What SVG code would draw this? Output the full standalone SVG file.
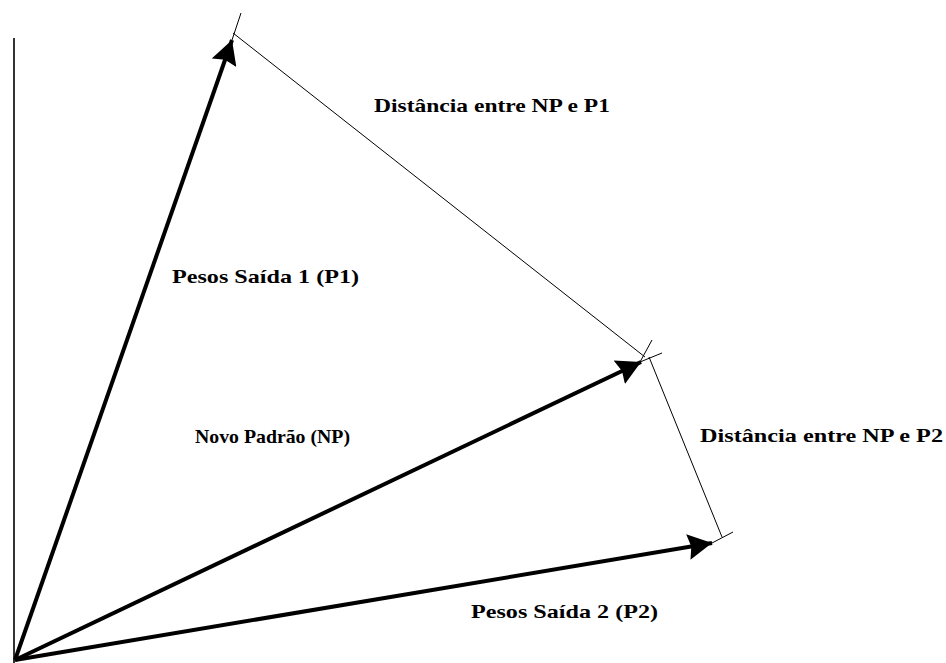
<svg xmlns="http://www.w3.org/2000/svg" width="946" height="663" viewBox="0 0 946 663">
<style>
.vec{stroke:#000;stroke-width:4;fill:none}
.thin{stroke:#000;stroke-width:1;fill:none}
.lbl{font-family:"Liberation Serif","Times New Roman",serif;font-weight:bold;font-size:19px;fill:#000}
</style>
<defs>
<marker id="ah" viewBox="0 0 24 26" refX="24" refY="13" markerWidth="24" markerHeight="26" markerUnits="userSpaceOnUse" orient="auto">
<path d="M0,0 L24,13 L0,26 L3,13 Z" fill="#000"/>
</marker>
</defs>
<rect width="946" height="663" fill="#fff"/>
<g id="axis">
<line x1="14" y1="38" x2="14" y2="663" stroke="#333" stroke-width="2"/>
</g>
<g id="connectors">
<line class="vec" x1="15" y1="660" x2="232" y2="40" marker-end="url(#ah)"/>
<line class="vec" x1="15" y1="660" x2="641" y2="362" stroke-width="3" marker-end="url(#ah)"/>
<line class="vec" x1="15" y1="660" x2="712" y2="543" marker-end="url(#ah)"/>
<line class="thin" x1="232" y1="40" x2="241" y2="13"/>
<line class="thin" x1="233" y1="33" x2="645" y2="357"/>
<line class="thin" x1="652" y1="340" x2="640" y2="362"/>
<line class="thin" x1="640" y1="362" x2="662" y2="353"/>
<line class="thin" x1="649" y1="357" x2="722" y2="537"/>
<line class="thin" x1="712" y1="543" x2="733" y2="532"/>
</g>
<g id="label-d1"><text class="lbl" x="374" y="112" textLength="236" lengthAdjust="spacingAndGlyphs">Distância entre NP e P1</text></g>
<g id="label-p1"><text class="lbl" x="172" y="283" textLength="187" lengthAdjust="spacingAndGlyphs">Pesos Saída 1 (P1)</text></g>
<g id="label-np"><text class="lbl" x="195" y="443" textLength="155" lengthAdjust="spacingAndGlyphs">Novo Padrão (NP)</text></g>
<g id="label-d2"><text class="lbl" x="700" y="442" textLength="243" lengthAdjust="spacingAndGlyphs">Distância entre NP e P2</text></g>
<g id="label-p2"><text class="lbl" x="471" y="618" textLength="187" lengthAdjust="spacingAndGlyphs">Pesos Saída 2 (P2)</text></g>
</svg>
